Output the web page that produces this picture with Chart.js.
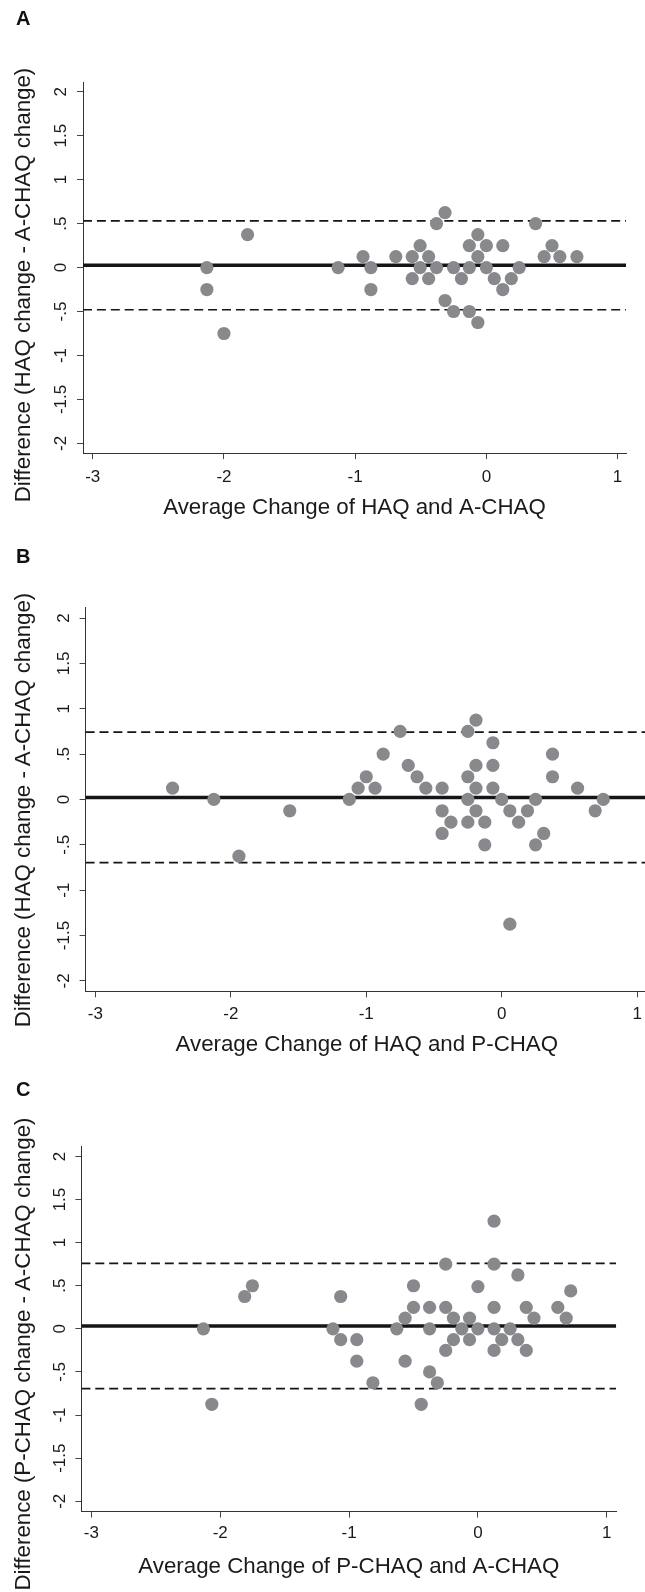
<!DOCTYPE html>
<html>
<head>
<meta charset="utf-8">
<title>Bland-Altman plots</title>
<script src="https://cdn.jsdelivr.net/npm/chart.js@4.4.1/dist/chart.umd.min.js"></script>
<style>
  html, body { margin: 0; padding: 0; background: #fff; overflow: hidden; }
  body { position: relative; width: 645px; height: 1592px; font-family: 'Liberation Sans', Arial, sans-serif; }
  canvas { position: absolute; left: 0; display: block; }
  .ytitle {
    position: absolute;
    white-space: nowrap;
    font-size: 22.3px;
    line-height: 1;
    color: #1a1a1a;
    transform: translate(-50%, -50%) rotate(-90deg);
  }
</style>
</head>
<body>
<canvas id="chartA" width="645" height="530" style="top:0px"></canvas>
<canvas id="chartB" width="660" height="530" style="top:530px"></canvas>
<canvas id="chartC" width="645" height="532" style="top:1060px"></canvas>

<div class="ytitle" style="left:22.5px; top:285px">Difference (HAQ change - A-CHAQ change)</div>
<div class="ytitle" style="left:22.5px; top:810px">Difference (HAQ change - A-CHAQ change)</div>
<div class="ytitle" style="left:22.5px; top:1354px">Difference (P-CHAQ change - A-CHAQ change)</div>

<script>
// Axis ticks (shared by all three panels)
const xTickValues = [-3, -2, -1, 0, 1];
const xTickLabels = ['-3', '-2', '-1', '0', '1'];
const yTickValues = [-2, -1.5, -1, -0.5, 0, 0.5, 1, 1.5, 2];
const yTickLabels = ['-2', '-1.5', '-1', '-.5', '0', '.5', '1', '1.5', '2'];

// Panel A: HAQ vs A-CHAQ
const avgA = [-2.13, -2.13, -2.0, -1.82, -1.13, -0.94, -0.88, -0.88, -0.69, -0.565,
  -0.565, -0.505, -0.505, -0.44, -0.44, -0.38, -0.38, -0.315, -0.315, -0.25,
  -0.25, -0.19, -0.13, -0.13, -0.13, -0.065, -0.065, -0.065, 0, 0,
  0.06, 0.125, 0.125, 0.19, 0.25, 0.375, 0.44, 0.5, 0.56, 0.69];
const diffA = [0, -0.25, -0.75, 0.375, 0, 0.125, 0, -0.25, 0.125, 0.125,
  -0.125, 0.25, 0, 0.125, -0.125, 0.5, 0, 0.625, -0.375, 0,
  -0.5, -0.125, 0.25, 0, -0.5, 0.375, 0.125, -0.625, 0.25, 0,
  -0.125, 0.25, -0.25, -0.125, 0, 0.5, 0.125, 0.25, 0.125, 0.125];
const limitsA = [0.025, 0.53, -0.48]; // mean, upper, lower

// Panel B: HAQ vs P-CHAQ
const avgB = [-2.43, -2.125, -1.94, -1.565, -1.125, -1.06, -1.0, -0.935, -0.875, -0.75,
  -0.69, -0.625, -0.56, -0.44, -0.44, -0.44, -0.375, -0.25, -0.25, -0.25,
  -0.25, -0.19, -0.19, -0.19, -0.19, -0.125, -0.125, -0.065, -0.065, -0.065,
  0, 0.06, 0.06, 0.125, 0.19, 0.25, 0.25, 0.31, 0.375, 0.375,
  0.56, 0.69, 0.75];
const diffB = [0.125, 0, -0.625, -0.125, 0, 0.125, 0.25, 0.125, 0.5, 0.75,
  0.375, 0.25, 0.125, 0.125, -0.125, -0.375, -0.25, 0.75, 0.25, 0,
  -0.25, 0.875, 0.375, 0.125, -0.125, -0.25, -0.5, 0.625, 0.375, 0.125,
  0, -0.125, -1.375, -0.25, -0.125, 0, -0.5, -0.375, 0.5, 0.25,
  0.125, -0.125, 0];
const limitsB = [0.022, 0.742, -0.697];

// Panel C: P-CHAQ vs A-CHAQ
const avgC = [-2.13, -2.065, -1.81, -1.75, -1.125, -1.065, -1.065, -0.94, -0.94, -0.815,
  -0.63, -0.565, -0.565, -0.5, -0.5, -0.44, -0.375, -0.375, -0.375, -0.315,
  -0.25, -0.25, -0.25, -0.19, -0.19, -0.125, -0.065, -0.065, 0, 0,
  0.125, 0.125, 0.125, 0.125, 0.125, 0.185, 0.25, 0.31, 0.31, 0.375,
  0.375, 0.435, 0.62, 0.685, 0.72];
const diffC = [0, -0.875, 0.375, 0.5, 0, 0.375, -0.125, -0.125, -0.375, -0.625,
  0, 0.125, -0.375, 0.5, 0.25, -0.875, 0.25, 0, -0.5, -0.625,
  0.75, 0.25, -0.25, 0.125, -0.125, 0, 0.125, -0.125, 0, 0.49,
  1.25, 0.75, 0.25, 0, -0.25, -0.125, 0, 0.625, -0.125, 0.25,
  -0.25, 0.125, 0.25, 0.125, 0.44];
const limitsC = [0.033, 0.759, -0.694];

Chart.defaults.font.family = "'Liberation Sans', Arial, sans-serif";
Chart.defaults.color = '#1a1a1a';

// Horizontal reference line across the whole x range
function hLine(y, xRange, width, dash) {
    return {
        data: [{ x: xRange[0], y: y }, { x: xRange[1], y: y }],
        showLine: true,
        borderColor: '#151515',
        borderWidth: width,
        borderDash: dash,
        pointRadius: 0,
        pointHoverRadius: 0
    };
}

function makePanel(id, p) {
    const ctx = document.getElementById(id);
    const points = p.avg.map(function(x, i) {
        return { x: x, y: p.diff[i] };
    });

    return new Chart(ctx, {
        type: 'scatter',
        data: {
            datasets: [
                {
                    data: points,
                    backgroundColor: '#88898c',
                    borderWidth: 0,
                    pointRadius: 6.6,
                    pointHoverRadius: 6.6
                },
                hLine(p.limits[0], p.xRange, 3.5, []),
                hLine(p.limits[1], p.xRange, 1.7, [9, 4.9]),
                hLine(p.limits[2], p.xRange, 1.7, [9, 4.9])
            ]
        },
        options: {
            responsive: false,
            animation: false,
            events: [],
            layout: {
                padding: { left: 16, right: p.padRight, top: 0, bottom: 0 }
            },
            plugins: {
                legend: { display: false },
                tooltip: { enabled: false },
                title: {
                    display: true,
                    text: p.letter,
                    align: 'start',
                    color: '#111',
                    font: { size: 20, weight: 'bold', lineHeight: 1 },
                    padding: { top: p.letterTop, bottom: p.areaTop - p.letterTop - 20 }
                }
            },
            scales: {
                x: {
                    type: 'linear',
                    min: p.xRange[0],
                    max: p.xRange[1],
                    afterBuildTicks: function(axis) {
                        axis.ticks = xTickValues.map(function(v) { return { value: v }; });
                    },
                    afterFit: function(axis) {
                        axis.height = p.xAxisH;
                    },
                    ticks: {
                        autoSkip: false,
                        maxRotation: 0,
                        padding: p.xTickPad,
                        font: { size: 17, lineHeight: 1 },
                        callback: function(v, i) { return xTickLabels[i]; }
                    },
                    grid: {
                        drawOnChartArea: false,
                        tickLength: 6,
                        tickColor: '#444',
                        tickWidth: 1
                    },
                    border: { display: true, color: '#333', width: 1 },
                    title: {
                        display: true,
                        text: p.xTitle,
                        font: { size: 22.3, lineHeight: 1 },
                        padding: { top: 0, bottom: p.xTitlePad }
                    }
                },
                y: {
                    type: 'linear',
                    min: p.yRange[0],
                    max: p.yRange[1],
                    afterBuildTicks: function(axis) {
                        axis.ticks = yTickValues.map(function(v) { return { value: v }; });
                    },
                    afterFit: function(axis) {
                        axis.width = p.areaLeft - 16;
                    },
                    ticks: {
                        autoSkip: false,
                        minRotation: 90,
                        maxRotation: 90,
                        crossAlign: 'center',
                        padding: 0.7,
                        font: { size: 17, lineHeight: 1 },
                        callback: function(v, i) { return yTickLabels[i]; }
                    },
                    grid: {
                        drawOnChartArea: false,
                        tickLength: 6,
                        tickColor: '#444',
                        tickWidth: 1
                    },
                    border: { display: true, color: '#333', width: 1 }
                }
            }
        }
    });
}

makePanel('chartA', {
    letter: 'A', avg: avgA, diff: diffA, limits: limitsA,
    xTitle: 'Average Change of HAQ and A-CHAQ',
    xRange: [-3.074, 1.064], yRange: [-2.11, 2.11],
    letterTop: 9, areaTop: 82, areaLeft: 83, padRight: 19,
    xAxisH: 76.9, xTickPad: 10, xTitlePad: 11.35
});

makePanel('chartB', {
    letter: 'B', avg: avgB, diff: diffB, limits: limitsB,
    xTitle: 'Average Change of HAQ and P-CHAQ',
    xRange: [-3.072, 1.08], yRange: [-2.115, 2.115],
    letterTop: 17, areaTop: 77.6, areaLeft: 85.6, padRight: 12,
    xAxisH: 68.7, xTickPad: 8.2, xTitlePad: 3.85
});

makePanel('chartC', {
    letter: 'C', avg: avgC, diff: diffC, limits: limitsC,
    xTitle: 'Average Change of P-CHAQ and A-CHAQ',
    xRange: [-3.077, 1.073], yRange: [-2.12, 2.12],
    letterTop: 20, areaTop: 86.1, areaLeft: 81.4, padRight: 28.8,
    xAxisH: 80.4, xTickPad: 7.5, xTitlePad: 14.35
});
</script>
</body>
</html>
